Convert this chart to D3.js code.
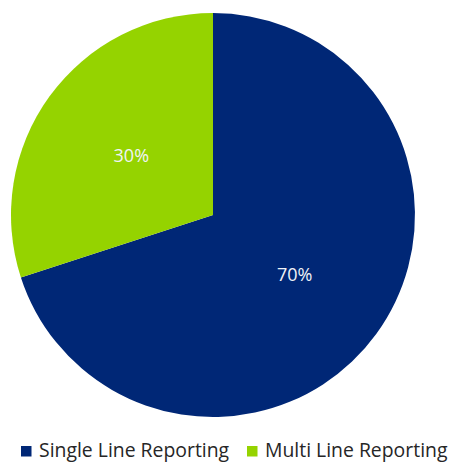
<!DOCTYPE html>
<html>
<head>
<meta charset="utf-8">
<script src="https://cdn.jsdelivr.net/npm/d3@7"></script>
<style>
  html, body { margin: 0; padding: 0; background: #ffffff; }
  svg { display: block; }
</style>
</head>
<body>
<svg id="chart" width="456" height="463"></svg>
<script>
// Share of reporting type
const categories = ["Single Line Reporting", "Multi Line Reporting"];
const values = [70, 30];
const valueLabels = ["70%", "30%"];
const colors = ["#002776", "#95d300"];

const svg = d3.select("#chart");
const font = "'Open Sans', 'DejaVu Sans', sans-serif";

const cx = 213, cy = 215, radius = 202;

const pie = d3.pie().sort(null).value(d => d.value);
const arcs = pie(categories.map((c, i) => ({ name: c, value: values[i], label: valueLabels[i], color: colors[i] })));

const arc = d3.arc().innerRadius(0).outerRadius(radius);

const g = svg.append("g").attr("transform", `translate(${cx},${cy})`);

g.selectAll("path.slice")
  .data(arcs)
  .join("path")
  .attr("class", "slice")
  .attr("d", arc)
  .attr("fill", d => d.data.color);

g.selectAll("text.value")
  .data(arcs)
  .join("text")
  .attr("class", "value")
  .attr("transform", d => `translate(${arc.centroid(d)})`)
  .attr("text-anchor", "middle")
  .attr("dy", "0.36em")
  .attr("font-family", font)
  .attr("font-size", 18)
  .attr("fill", "#f0f3f7")
  .text(d => d.data.label);

// Legend along the bottom
const legendX = [21, 247];
const legend = svg.append("g").attr("class", "legend");
const items = legend.selectAll("g.item")
  .data(categories)
  .join("g")
  .attr("class", "item")
  .attr("transform", (d, i) => `translate(${legendX[i]},446)`);

items.append("rect")
  .attr("width", 10.5)
  .attr("height", 10.5)
  .attr("fill", (d, i) => colors[i]);

items.append("text")
  .attr("x", 18)
  .attr("y", 11)
  .attr("font-family", font)
  .attr("font-size", 19.4)
  .attr("fill", "#262626")
  .text(d => d);
</script>
</body>
</html>
